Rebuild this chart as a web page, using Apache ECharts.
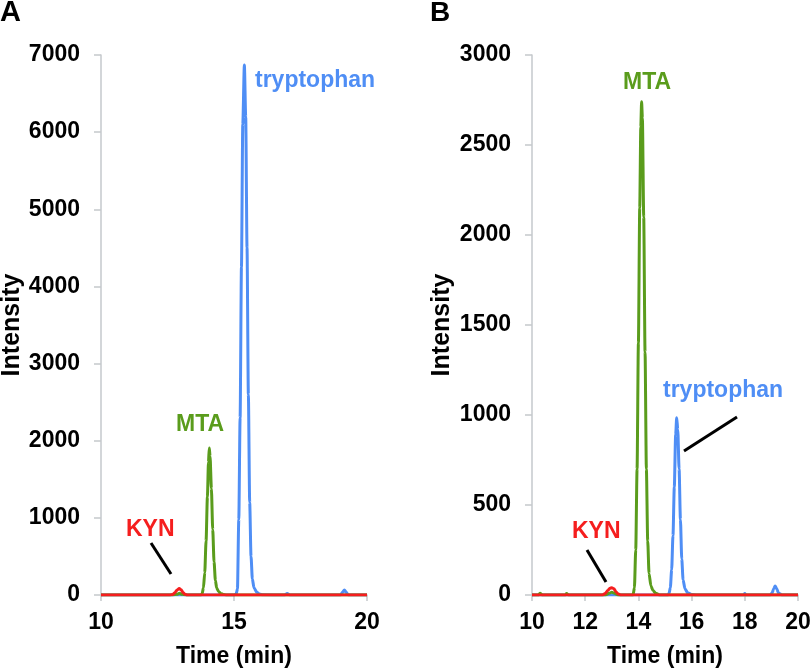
<!DOCTYPE html>
<html>
<head>
<meta charset="utf-8">
<script src="https://cdn.jsdelivr.net/npm/echarts@6/dist/echarts.min.js"></script>
<style>
  html, body { margin: 0; padding: 0; background: #ffffff; }
  #chart { width: 810px; height: 669px; }
</style>
</head>
<body>
<div id="chart"></div>
<script>
// ---------- Panel A data ----------
const xTicksA = [10, 15, 20];
const yTicksA = [0, 1000, 2000, 3000, 4000, 5000, 6000, 7000];

const trpA_t = [10, 15.0, 15.08, 15.13, 15.18, 15.23, 15.28, 15.33, 15.39, 15.44, 15.49, 15.54, 15.59, 15.64, 15.69, 15.75, 15.85, 15.95, 16.1, 16.9, 17.0, 17.1, 19.0, 19.08, 19.15, 19.22, 19.3, 20];
const trpA_v = [0, 0, 12, 80, 980, 2300, 4250, 6100, 6870, 6200, 4500, 2600, 1200, 500, 210, 95, 38, 12, 3, 0, 18, 0, 0, 35, 65, 35, 0, 0];

const mtaA_t = [10, 12.7, 12.85, 12.95, 13.05, 13.2, 13.75, 13.8, 13.85, 13.9, 13.95, 14.0, 14.04, 14.07, 14.1, 14.15, 14.2, 14.25, 14.3, 14.35, 14.42, 14.5, 14.6, 14.7, 20];
const mtaA_v = [0, 0, 10, 22, 10, 0, 0, 15, 90, 290, 700, 1270, 1720, 1905, 1800, 1380, 850, 430, 190, 90, 45, 20, 8, 0, 0];

const kynA_t = [10, 12.6, 12.7, 12.78, 12.86, 12.94, 13.01, 13.09, 13.16, 13.25, 20];
const kynA_v = [0, 0, 8, 30, 65, 85, 68, 30, 10, 0, 0];

// ---------- Panel B data ----------
const xTicksB = [10, 12, 14, 16, 18, 20];
const yTicksB = [0, 500, 1000, 1500, 2000, 2500, 3000];

const trpB_t = [10, 15.1, 15.15, 15.2, 15.25, 15.3, 15.35, 15.4, 15.44, 15.48, 15.53, 15.58, 15.63, 15.68, 15.75, 15.85, 16.0, 16.2, 17.95, 18.0, 18.05, 18.95, 19.02, 19.09, 19.14, 19.2, 19.27, 19.4, 20];
const trpB_v = [0, 0, 8, 40, 140, 330, 600, 890, 985, 920, 700, 420, 200, 85, 35, 12, 3, 0, 0, 8, 0, 0, 10, 35, 50, 35, 10, 0, 0];

const mtaB_t = [10, 10.25, 10.3, 10.38, 11.25, 11.3, 11.38, 12.75, 12.9, 13.0, 13.1, 13.25, 13.8, 13.85, 13.9, 13.95, 14.0, 14.05, 14.09, 14.12, 14.15, 14.2, 14.25, 14.3, 14.35, 14.4, 14.47, 14.55, 14.65, 14.8, 20];
const mtaB_v = [0, 0, 10, 0, 0, 8, 0, 0, 10, 15, 10, 0, 0, 40, 250, 700, 1400, 2150, 2600, 2740, 2650, 2100, 1350, 700, 300, 120, 50, 25, 10, 0, 0];

const kynB_t = [10, 12.65, 12.75, 12.85, 12.93, 13.0, 13.08, 13.15, 13.25, 13.35, 20];
const kynB_v = [0, 0, 8, 25, 38, 40, 35, 18, 5, 0, 0];

// ---------- Styling ----------
const BLUE = '#4f8ef5';
const GREEN = '#5a9c1c';
const RED = '#f51e1e';
const AXIS = '#c5c9cc';
const FONT = '"Liberation Sans", Arial, sans-serif';

function pairs(t, v) { return t.map((x, i) => [x, v[i]]); }

function xAxis(gridIndex, ticks) {
  return {
    type: 'value', gridIndex: gridIndex,
    min: ticks[0], max: ticks[ticks.length - 1], interval: ticks[1] - ticks[0],
    name: 'Time (min)', nameLocation: 'middle', nameGap: 50,
    nameTextStyle: { fontFamily: FONT, fontWeight: 'bold', fontSize: 23, color: '#000' },
    axisLine: { show: true, lineStyle: { color: AXIS, width: 1.5 } },
    axisTick: { show: true, length: 6, lineStyle: { color: AXIS, width: 1.5 } },
    axisLabel: { fontFamily: FONT, fontWeight: 'bold', fontSize: 23, color: '#000', margin: 16,
                 formatter: function (v) { return String(v); } },
    splitLine: { show: false }
  };
}
function yAxis(gridIndex, ticks, gap) {
  return {
    type: 'value', gridIndex: gridIndex,
    min: ticks[0], max: ticks[ticks.length - 1], interval: ticks[1] - ticks[0],
    name: 'Intensity', nameLocation: 'middle', nameGap: gap,
    nameTextStyle: { fontFamily: FONT, fontWeight: 'bold', fontSize: 25, color: '#000' },
    axisLine: { show: true, lineStyle: { color: AXIS, width: 1.5 } },
    axisTick: { show: true, length: 7, lineStyle: { color: AXIS, width: 1.5 } },
    axisLabel: { fontFamily: FONT, fontWeight: 'bold', fontSize: 23, color: '#000', margin: 21,
                 formatter: function (v) { return String(v); } },
    splitLine: { show: false }
  };
}
function line(name, xi, t, v, color) {
  return {
    name: name, type: 'line', xAxisIndex: xi, yAxisIndex: xi,
    data: pairs(t, v), showSymbol: false, smooth: 0.25, smoothMonotone: 'x',
    lineStyle: { color: color, width: 3 }, itemStyle: { color: color },
    animation: false, clip: true
  };
}
function label(text, x, y, color, size) {
  return { type: 'text', left: x, top: y - size / 2, style: { text: text, fill: color, font: 'bold ' + size + 'px ' + FONT } };
}
function leader(x1, y1, x2, y2) {
  return { type: 'line', shape: { x1: x1, y1: y1, x2: x2, y2: y2 }, style: { stroke: '#000', lineWidth: 3 } };
}

const chart = echarts.init(document.getElementById('chart'), null, { renderer: 'canvas' });
chart.setOption({
  backgroundColor: '#ffffff',
  animation: false,
  grid: [
    { left: 101, right: 443, top: 55, bottom: 74, containLabel: false, outerBoundsMode: 'none' },
    { left: 532, right: 12, top: 55, bottom: 74, containLabel: false, outerBoundsMode: 'none' }
  ],
  xAxis: [xAxis(0, xTicksA), xAxis(1, xTicksB)],
  yAxis: [yAxis(0, yTicksA, 75), yAxis(1, yTicksB, 77)],
  series: [
    line('tryptophan', 0, trpA_t, trpA_v, BLUE),
    line('MTA', 0, mtaA_t, mtaA_v, GREEN),
    line('KYN', 0, kynA_t, kynA_v, RED),
    line('tryptophan', 1, trpB_t, trpB_v, BLUE),
    line('MTA', 1, mtaB_t, mtaB_v, GREEN),
    line('KYN', 1, kynB_t, kynB_v, RED)
  ],
  graphic: [
    { type: 'text', left: 0, top: -2, style: { text: 'A', fill: '#000', font: 'bold 29px ' + FONT } },
    { type: 'text', left: 430, top: -1, style: { text: 'B', fill: '#000', font: 'bold 28px ' + FONT } },
    label('tryptophan', 255, 81, BLUE, 23),
    label('MTA', 176, 425, GREEN, 23),
    label('KYN', 126, 530, RED, 23),
    leader(151, 543, 171, 574),
    label('MTA', 623, 83, GREEN, 23),
    label('tryptophan', 663, 391, BLUE, 23),
    label('KYN', 572, 532, RED, 23),
    leader(737, 417, 684, 451),
    leader(587, 550, 606, 582)
  ]
});
</script>
</body>
</html>
